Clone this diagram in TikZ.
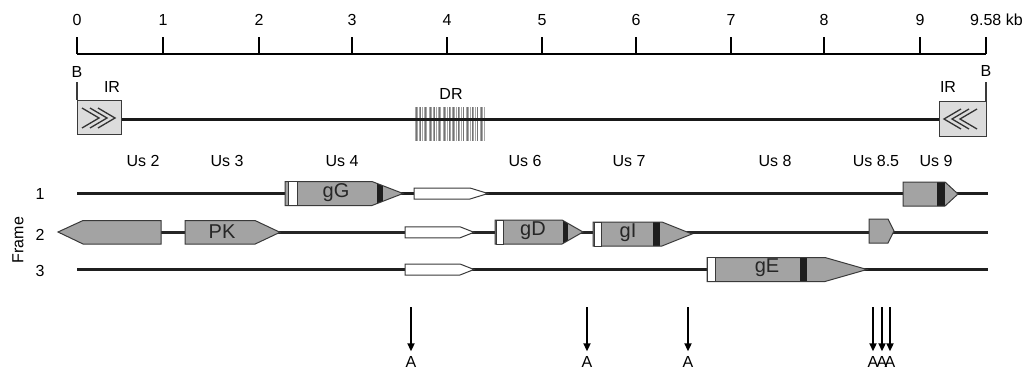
\documentclass[tikz,border=0pt]{standalone}
\usepackage{fontspec}
\setmainfont{Liberation Sans}
\usetikzlibrary{arrows.meta}
\definecolor{genegray}{HTML}{A3A3A3}
\definecolor{boxgray}{HTML}{DCDCDC}
\definecolor{edgegray}{HTML}{3A3A3A}
\definecolor{barblack}{HTML}{1E1E1E}
% gene pentagon helpers: #1 style, #2 x0, #3 x slant start, #4 x tip, #5 y centre, #6 half height
\newcommand\gfill[6]{\fill[#1] (#2,#5-#6) -- (#3,#5-#6) -- (#4,#5) -- (#3,#5+#6) -- (#2,#5+#6) -- cycle;}
\newcommand\gclip[5]{\clip (#1,#4-#5) -- (#2,#4-#5) -- (#3,#4) -- (#2,#4+#5) -- (#1,#4+#5) -- cycle;}
\newcommand\gdraw[6]{\draw[#1] (#2,#5-#6) -- (#3,#5-#6) -- (#4,#5) -- (#3,#5+#6) -- (#2,#5+#6) -- cycle;}
\begin{document}
\begin{tikzpicture}[x=1pt,y=-1pt,
  lbl/.style={font=\fontsize{16}{16}\selectfont, inner sep=0pt},
  glbl/.style={font=\fontsize{20}{20}\selectfont, inner sep=0pt, text=black!85},
  alab/.style={font=\fontsize{16}{16}\selectfont, inner sep=0pt},
  outline/.style={draw=edgegray, line width=1pt, line join=miter},
  strip/.style={fill=white, draw=edgegray, line width=0.7pt},
  rowline/.style={line width=2.6pt, black!88},
  thinrow/.style={line width=2.1pt, black!85},
  scaleline/.style={line width=2pt, black},
  bline/.style={line width=1.2pt, edgegray},
  chev/.style={line width=1.3pt, black!80, line join=miter},
  arr/.style={line width=2pt, -{Triangle[length=8pt,width=7pt]}, shorten >=5pt},
]
\useasboundingbox (0,0) rectangle (1034,372);

% ---------- scale bar ----------
\draw[scaleline] (77,54) -- (986,54);
\foreach \x/\t [count=\i] in {77/0,163/1,259/2,352/3,447/4,542/5,636/6,731/7,824/8,920/9}{
  \draw[scaleline] (\x,37) -- (\x,54);
  \node[lbl] (tick\i) at (\x,20) {\t};
}
\draw[scaleline] (986,37) -- (986,54);
\node[lbl, anchor=west] (tickend) at (970,20) {9.58 kb};

% ---------- genome line ----------
\foreach \i in {0,...,30}{
  \draw[line width=0.9pt, black!35] ({415+\i*2.33},107) -- ({415+\i*2.33},141);
}
\foreach \i in {0,...,14}{
  \draw[line width=0.8pt, black!55] ({416+\i*4.7},107) -- ({416+\i*4.7},141);
}
\draw[line width=3pt, black!90] (121,119) -- (939,119);
\node[lbl] (DR) at (451,94) {DR};

% left IR box
\filldraw[fill=boxgray, draw=edgegray, line width=1pt] (77,100) rectangle (121,134);
\foreach \x in {82,90,98}{\draw[chev] (\x,108) -- (\x+17,118) -- (\x,128);}
\draw[bline] (77,82) -- (77,100);
\node[lbl] (Bl) at (77,72) {B};
\node[lbl] (IRl) at (112,87) {IR};

% right IR box
\filldraw[fill=boxgray, draw=edgegray, line width=1pt] (939,101) rectangle (986,136);
\foreach \x in {944,952,960}{\draw[chev] (\x+17,109) -- (\x,119) -- (\x+17,129);}
\draw[bline] (986,82) -- (986,101);
\node[lbl] (Br) at (986,71) {B};
\node[lbl] (IRr) at (948,87) {IR};

% ---------- gene names ----------
\node[lbl] (us2) at (143,161) {Us 2};
\node[lbl] (us3) at (227,161) {Us 3};
\node[lbl] (us4) at (342,161) {Us 4};
\node[lbl] (us6) at (525,161) {Us 6};
\node[lbl] (us7) at (629,161) {Us 7};
\node[lbl] (us8) at (775,161) {Us 8};
\node[lbl] (us85) at (876,161) {Us 8.5};
\node[lbl] (us9) at (936,161) {Us 9};

% ---------- frames ----------
\node[lbl, rotate=90] (frame) at (18,240) {Frame};
\node[lbl] (f1) at (40,194) {1};
\node[lbl] (f2) at (40,235) {2};
\node[lbl] (f3) at (40,271) {3};

\draw[rowline] (77,193.5) -- (988,193.5);
\draw[thinrow] (60,232.5) -- (988,232.5);
\draw[rowline] (77,269.5) -- (988,269.5);

% frame 1: gG
\begin{scope}
  \gclip{285}{372}{403}{193.5}{12}
  \fill[genegray] (285,181) rectangle (404,206);
  \fill[barblack] (377,181) rectangle (383,206);
\end{scope}
\gdraw{outline}{285}{372}{403}{193.5}{12}
\filldraw[strip] (288,181.5) rectangle (297,205.5);
\node[glbl] (gG) at (336,192.5) {gG};
% frame 1: white ORF
\gfill{white}{414}{470}{488}{193.5}{5.5}
\gdraw{outline}{414}{470}{488}{193.5}{5.5}
% frame 1: Us9
\begin{scope}
  \gclip{903}{945}{958}{194}{12}
  \fill[genegray] (903,181) rectangle (959,207);
  \fill[barblack] (937,181) rectangle (945,207);
\end{scope}
\gdraw{outline}{903}{945}{958}{194}{12}

% frame 2: Us2 (leftward)
\filldraw[fill=genegray, draw=edgegray, line width=1pt, line join=miter]
  (58,232) -- (83,220.5) -- (161,220.5) -- (161,244) -- (83,244) -- cycle;
% frame 2: PK
\gfill{genegray}{185}{255}{280}{232.3}{11.8}
\gdraw{outline}{185}{255}{280}{232.3}{11.8}
\node[glbl] (PK) at (222,231.5) {PK};
% frame 2: white ORF
\gfill{white}{405}{460}{474}{232.3}{5.5}
\gdraw{outline}{405}{460}{474}{232.3}{5.5}
% frame 2: gD
\begin{scope}
  \gclip{495}{562}{583}{232}{12}
  \fill[genegray] (495,219) rectangle (584,245);
  \fill[barblack] (563,219) rectangle (568,245);
\end{scope}
\gdraw{outline}{495}{562}{583}{232}{12}
\filldraw[strip] (496,220) rectangle (503,244);
\node[glbl] (gD) at (533,230.5) {gD};
% frame 2: gI
\begin{scope}
  \gclip{593}{662}{692}{234}{12}
  \fill[genegray] (593,221) rectangle (693,247);
  \fill[barblack] (653,221) rectangle (660,247);
\end{scope}
\gdraw{outline}{593}{662}{692}{234}{12}
\filldraw[strip] (594,222) rectangle (601,246);
\node[glbl] (gI) at (628,232.5) {gI};
% frame 2: Us8.5
\gfill{genegray}{869}{888}{894}{231}{12}
\gdraw{outline}{869}{888}{894}{231}{12}

% frame 3: white ORF
\gfill{white}{405}{460}{474}{269.5}{5.5}
\gdraw{outline}{405}{460}{474}{269.5}{5.5}
% frame 3: gE
\begin{scope}
  \gclip{707}{825}{867}{269.5}{12}
  \fill[genegray] (707,257) rectangle (868,282);
  \fill[barblack] (800,257) rectangle (807,282);
\end{scope}
\gdraw{outline}{707}{825}{867}{269.5}{12}
\filldraw[strip] (707,257.5) rectangle (715,281.5);
\node[glbl] (gE) at (767,268) {gE};

% ---------- A sites ----------
\foreach \x [count=\i] in {411,587,688,873,882,890}{
  \node[alab] (A\i) at (\x,362) {A};
  \coordinate (As\i) at (\x,307);
  \draw[arr] (As\i) -- (A\i.north);
}
\end{tikzpicture}
\end{document}
